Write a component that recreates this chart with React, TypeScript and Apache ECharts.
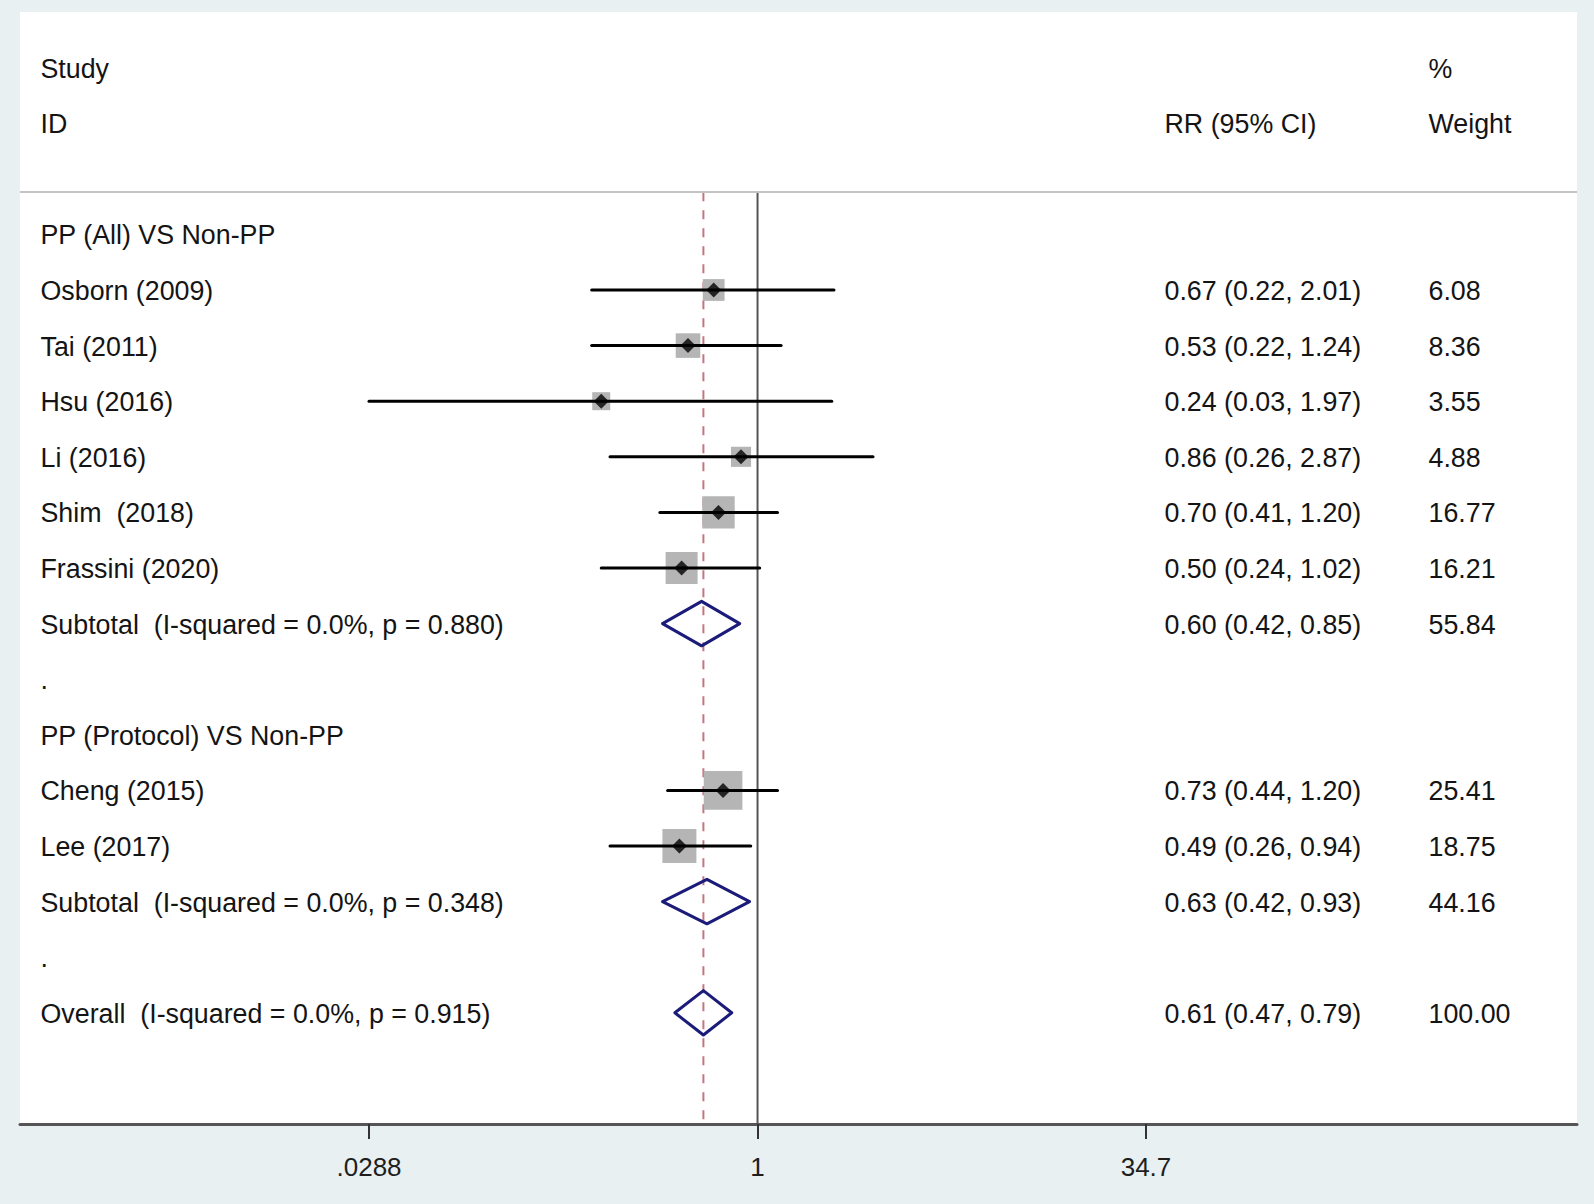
import React, { useEffect, useRef } from "react";
import * as echarts from "echarts";

// ---------------- data ----------------
const groupTitles = ["PP (All) VS Non-PP", "PP (Protocol) VS Non-PP"];
const studyLabels = [
  "Osborn (2009)",
  "Tai (2011)",
  "Hsu (2016)",
  "Li (2016)",
  "Shim  (2018)",
  "Frassini (2020)",
  "Cheng (2015)",
  "Lee (2017)",
];
const studyGroup = [0, 0, 0, 0, 0, 0, 1, 1];
const studyRR = [0.67, 0.53, 0.24, 0.86, 0.7, 0.5, 0.73, 0.49];
const studyLower = [0.22, 0.22, 0.0288, 0.26, 0.41, 0.24, 0.44, 0.26];
const studyUpper = [2.01, 1.24, 1.97, 2.87, 1.2, 1.02, 1.2, 0.94];
const studyWeight = [6.08, 8.36, 3.55, 4.88, 16.77, 16.21, 25.41, 18.75];

const pooledLabels = [
  "Subtotal  (I-squared = 0.0%, p = 0.880)",
  "Subtotal  (I-squared = 0.0%, p = 0.348)",
  "Overall  (I-squared = 0.0%, p = 0.915)",
];
const pooledRR = [0.6, 0.63, 0.61];
const pooledLower = [0.42, 0.42, 0.47];
const pooledUpper = [0.85, 0.93, 0.79];
const pooledWeight = [55.84, 44.16, 100.0];

const headerLeft = ["Study", "ID"];
const headerRR = "RR (95% CI)";
const headerWeight = ["%", "Weight"];

const tickValues = [0.0288, 1, 34.7];
const tickLabels = [".0288", "1", "34.7"];

// ---------------- layout helpers ----------------
type Row = { kind: "title" | "study" | "pooled" | "gap"; label: string; idx: number };
const rows: Row[] = [];
groupTitles.forEach((t, g) => {
  rows.push({ kind: "title", label: t, idx: g });
  studyGroup.forEach((sg, i) => {
    if (sg === g) rows.push({ kind: "study", label: studyLabels[i], idx: i });
  });
  rows.push({ kind: "pooled", label: pooledLabels[g], idx: g });
  rows.push({ kind: "gap", label: ".", idx: -1 });
});
rows.push({ kind: "pooled", label: pooledLabels[2], idx: 2 });

const ln = Math.log;
const fmtCI = (e: number, l: number, u: number) =>
  `${e.toFixed(2)} (${l.toFixed(2)}, ${u.toFixed(2)})`;

const Y_MIN = -4;
const Y_MAX = 16;
const SEP_ROW = -0.76;
const X_MIN = -6.734;
const X_MAX = 7.482;

const FONT = '"Liberation Sans", Arial, Helvetica, sans-serif';
const TEXT_COLOR = "#141414";
const FONT_SIZE = 26.8;

export default function App() {
  const ref = useRef<HTMLDivElement>(null);

  useEffect(() => {
    if (!ref.current) return;
    const chart = echarts.init(ref.current, null, { renderer: "svg" });

    const studyRow: number[] = [];
    const pooledRow: number[] = [];
    rows.forEach((r, i) => {
      if (r.kind === "study") studyRow[r.idx] = i;
      if (r.kind === "pooled") pooledRow[r.idx] = i;
    });

    const squareData = studyRR.map((v, i) => [ln(v), studyRow[i]]);
    const pointData = studyRR.map((v, i) => [ln(v), studyRow[i]]);
    const ciData = studyRR.map((_, i) => [ln(studyLower[i]), ln(studyUpper[i]), studyRow[i]]);
    const diamondData = pooledRR.map((v, i) => [
      ln(pooledLower[i]),
      ln(v),
      ln(pooledUpper[i]),
      pooledRow[i],
    ]);
    const refData = [
      [0, 0],
      [ln(pooledRR[2]), 1],
    ];

    const textData: any[] = [];
    textData.push({ value: [0, -3], l: headerLeft[0], m: "", r: headerWeight[0] });
    textData.push({ value: [0, -2], l: headerLeft[1], m: headerRR, r: headerWeight[1] });
    rows.forEach((r, i) => {
      let m = "";
      let w = "";
      if (r.kind === "study") {
        m = fmtCI(studyRR[r.idx], studyLower[r.idx], studyUpper[r.idx]);
        w = studyWeight[r.idx].toFixed(2);
      } else if (r.kind === "pooled") {
        m = fmtCI(pooledRR[r.idx], pooledLower[r.idx], pooledUpper[r.idx]);
        w = pooledWeight[r.idx].toFixed(2);
      }
      textData.push({ value: [0, i], l: r.label, m, r: w });
    });

    const tickLn = tickValues.map((v) => ln(v));

    const option: any = {
      animation: false,
      backgroundColor: "#e8f0f2",
      grid: {
        left: 20,
        right: 17,
        top: 12,
        bottom: 80,
        show: true,
        backgroundColor: "#ffffff",
        borderWidth: 0,
      },
      xAxis: {
        type: "value",
        min: X_MIN,
        max: X_MAX,
        axisLine: { show: true, onZero: false, lineStyle: { color: "#555555", width: 3 } },
        axisTick: {
          show: true,
          customValues: tickLn,
          length: 15,
          lineStyle: { color: "#333333", width: 2 },
        },
        axisLabel: {
          show: true,
          customValues: tickLn,
          margin: 30,
          fontSize: 26,
          fontFamily: FONT,
          color: "#1e1e1e",
          formatter: (v: number) => {
            let best = 0;
            tickLn.forEach((t, i) => {
              if (Math.abs(t - v) < Math.abs(tickLn[best] - v)) best = i;
            });
            return tickLabels[best];
          },
        },
        splitLine: { show: false },
      },
      yAxis: {
        type: "value",
        inverse: true,
        min: Y_MIN,
        max: Y_MAX,
        show: false,
        axisLine: { onZero: false },
        splitLine: { show: false },
      },
      series: [
        {
          name: "refLines",
          type: "custom",
          z: 1,
          data: refData,
          renderItem: (params: any, api: any) => {
            const x = api.value(0);
            const dashed = api.value(1) === 1;
            const p1 = api.coord([x, SEP_ROW]);
            const p2 = api.coord([x, Y_MAX]);
            return {
              type: "line",
              shape: { x1: p1[0], y1: p1[1], x2: p2[0], y2: p2[1] },
              style: dashed
                ? { stroke: "#c4767e", lineWidth: 2, lineDash: [9, 9] }
                : { stroke: "#555555", lineWidth: 2 },
            };
          },
          markLine: {
            silent: true,
            symbol: "none",
            label: { show: false },
            lineStyle: { color: "#c4c4c4", width: 2, type: "solid" },
            data: [{ yAxis: SEP_ROW }],
          },
        },
        {
          name: "weights",
          type: "scatter",
          z: 2,
          symbol: "rect",
          symbolSize: (_v: any, p: any) => 5.7 + 6.53 * Math.sqrt(studyWeight[p.dataIndex]),
          itemStyle: { color: "#b5b5b5", opacity: 1 },
          data: squareData,
        },
        {
          name: "ci",
          type: "custom",
          z: 3,
          data: ciData,
          renderItem: (params: any, api: any) => {
            const y = api.value(2);
            const p1 = api.coord([api.value(0), y]);
            const p2 = api.coord([api.value(1), y]);
            return {
              type: "line",
              shape: { x1: p1[0], y1: p1[1], x2: p2[0], y2: p2[1] },
              style: { stroke: "#000000", lineWidth: 3, lineCap: "round" },
            };
          },
        },
        {
          name: "estimates",
          type: "scatter",
          z: 4,
          symbol: "diamond",
          symbolSize: 15,
          itemStyle: { color: "#000000" },
          data: pointData,
        },
        {
          name: "pooled",
          type: "custom",
          z: 4,
          data: diamondData,
          renderItem: (params: any, api: any) => {
            const y = api.value(3);
            const l = api.coord([api.value(0), y]);
            const t = api.coord([api.value(1), y - 0.4]);
            const r = api.coord([api.value(2), y]);
            const b = api.coord([api.value(1), y + 0.4]);
            return {
              type: "polygon",
              shape: { points: [l, t, r, b] },
              style: { fill: "none", stroke: "#1b1b7a", lineWidth: 3, lineJoin: "round" },
            };
          },
        },
        {
          name: "texts",
          type: "custom",
          z: 5,
          data: textData,
          renderItem: (params: any, api: any) => {
            const item = textData[params.dataIndex];
            const y = api.coord([0, api.value(1)])[1] + 1;
            const mk = (x: number, text: string) => ({
              type: "text",
              x,
              y,
              style: {
                text,
                fill: TEXT_COLOR,
                font: `${FONT_SIZE}px ${FONT}`,
                align: "left",
                verticalAlign: "middle",
              },
            });
            const children: any[] = [];
            if (item.l) children.push(mk(40.5, item.l));
            if (item.m) children.push(mk(1164.5, item.m));
            if (item.r) children.push(mk(1428.5, item.r));
            return { type: "group", children };
          },
        },
      ],
    };

    chart.setOption(option);
    return () => chart.dispose();
  }, []);

  return (
    <div
      ref={ref}
      style={{ position: "absolute", left: 0, top: 0, width: 1594, height: 1204 }}
    />
  );
}
